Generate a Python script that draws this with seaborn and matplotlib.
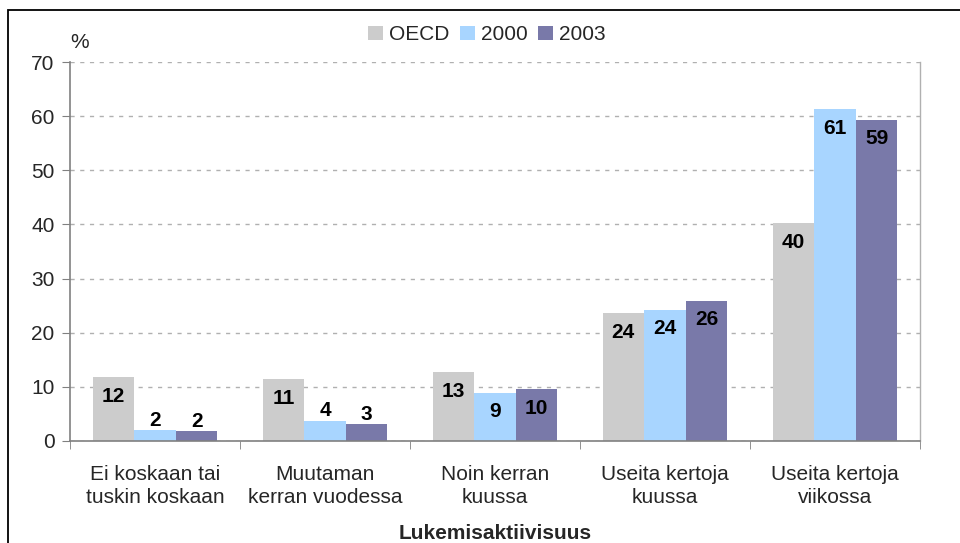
import matplotlib
matplotlib.use("Agg")
import matplotlib.pyplot as plt
import seaborn as sns
import pandas as pd
from matplotlib.patches import Rectangle
from matplotlib.ticker import FixedLocator, NullFormatter

categories = ["Ei koskaan tai\ntuskin koskaan", "Muutaman\nkerran vuodessa",
              "Noin kerran\nkuussa", "Useita kertoja\nkuussa", "Useita kertoja\nviikossa"]
series_names = ["OECD", "2000", "2003"]
oecd = [11.8, 11.4, 12.7, 23.6, 40.2]
y2000 = [2.0, 3.7, 8.9, 24.2, 61.3]
y2003 = [1.8, 3.1, 9.6, 25.9, 59.3]
yticks = [0, 10, 20, 30, 40, 50, 60, 70]
colors = ["#CCCCCC", "#A8D5FF", "#7979A9"]

rows = []
for name, vals in zip(series_names, [oecd, y2000, y2003]):
    for c, v in zip(categories, vals):
        rows.append({"cat": c, "series": name, "value": v})
df = pd.DataFrame(rows)

sns.set_style("white")
plt.rcParams["font.family"] = ["Liberation Sans", "DejaVu Sans"]
FS = 15

fig = plt.figure(figsize=(9.6, 5.43), dpi=100)
ax = fig.add_axes([70/960, 1-441/543, 850/960, 379/543])

sns.barplot(data=df, x="cat", y="value", hue="series", order=categories,
            hue_order=series_names, palette=colors, width=0.735,
            saturation=1, ax=ax, errorbar=None, linewidth=0)

ax.set_ylim(0, 70)
ax.set_xlim(-0.5, len(categories) - 0.5)
ax.set_yticks(yticks)
ax.set_yticklabels([str(t) for t in yticks], fontsize=FS)
ax.yaxis.grid(True, color="#B0B0B0", linestyle=(0, (3, 4)), linewidth=1)
ax.set_axisbelow(True)

ax.xaxis.set_minor_locator(FixedLocator([i - 0.5 for i in range(len(categories) + 1)]))
ax.xaxis.set_minor_formatter(NullFormatter())
ax.tick_params(axis="x", which="major", length=0, labelsize=FS, pad=17)
ax.tick_params(axis="x", which="minor", length=6, color="#808080", direction="out", bottom=True)
ax.tick_params(axis="y", length=6, color="#808080", direction="out", left=True, labelsize=FS, pad=5)
for lbl in ax.get_xticklabels():
    lbl.set_linespacing(1.3)

for s in ["left", "bottom"]:
    ax.spines[s].set_color("#808080")
    ax.spines[s].set_linewidth(1.2)
ax.spines["right"].set_color("#B0B0B0")
ax.spines["right"].set_linewidth(1)
ax.spines["top"].set_visible(False)

ax.set_xlabel("Lukemisaktiivisuus", fontsize=FS, fontweight="bold", labelpad=12)
ax.set_ylabel("")
ax.text(80/960, 1-42/543, "%", transform=fig.transFigure, fontsize=FS,
        ha="center", va="center")

for container in ax.containers:
    for bar in container:
        h = bar.get_height()
        x = bar.get_x() + bar.get_width() / 2
        off = 10 if h < 5 else -19
        ax.annotate(f"{h:.0f}", (x, h), xytext=(0, off), textcoords="offset pixels",
                    ha="center", va="center", fontsize=FS, fontweight="bold", color="black")

leg = ax.legend(loc="center", bbox_to_anchor=(487/960, 1-35/543),
                bbox_transform=fig.transFigure, ncol=3, frameon=False, fontsize=FS,
                handlelength=0.7, handleheight=0.7, handletextpad=0.3, columnspacing=0.5)

fig.add_artist(Rectangle((8/960, -0.1), 1.2, 1.1 - 10.5/543,
                         transform=fig.transFigure, fill=False, edgecolor="black",
                         linewidth=1.3, clip_on=False))

fig.savefig("out.png", dpi=100)
